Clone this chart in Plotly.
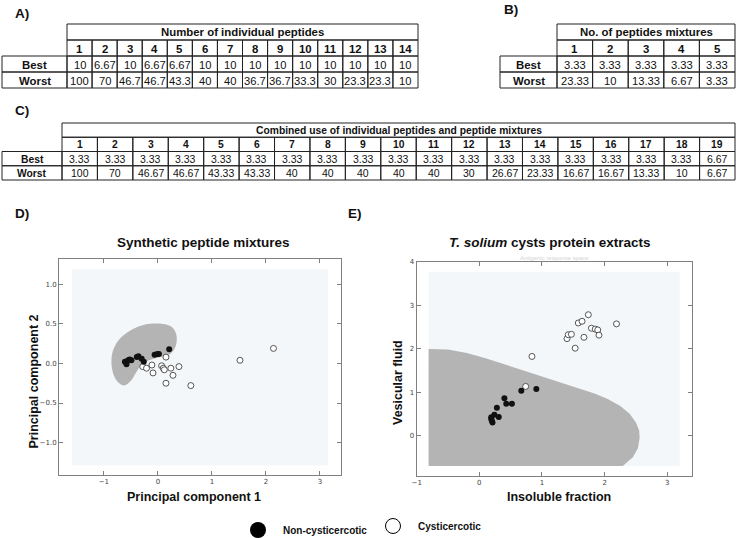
import plotly.graph_objects as go

W, H = 739, 538
FONT = "Liberation Sans, Arial, sans-serif"
NARROW = "Liberation Sans Narrow, Liberation Sans, Arial, sans-serif"

# ---------------- data: tables ----------------
a_title = "Number of individual peptides"
a_cols = [str(i) for i in range(1, 15)]
a_best = [10, 6.67, 10, 6.67, 6.67, 10, 10, 10, 10, 10, 10, 10, 10, 10]
a_worst = [100, 70, 46.7, 46.7, 43.3, 40, 40, 36.7, 36.7, 33.3, 30, 23.3, 23.3, 10]

b_title = "No. of peptides mixtures"
b_cols = [str(i) for i in range(1, 6)]
b_best = [3.33, 3.33, 3.33, 3.33, 3.33]
b_worst = [23.33, 10, 13.33, 6.67, 3.33]

c_title = "Combined use of individual peptides and peptide mixtures"
c_cols = [str(i) for i in range(1, 20)]
c_best = [3.33] * 18 + [6.67]
c_worst = [100, 70, 46.67, 46.67, 43.33, 43.33, 40, 40, 40, 40, 40, 30,
           26.67, 23.33, 16.67, 16.67, 13.33, 10, 6.67]

# ---------------- data: panel D (PCA) ----------------
d_non_x = [-0.61, -0.58, -0.55, -0.52, -0.49, -0.39, -0.36, -0.30, -0.26, -0.06, -0.01, 0.02, 0.21]
d_non_y = [0.02, -0.01, 0.04, 0.05, 0.04, 0.08, 0.09, 0.06, 0.02, 0.11, 0.12, 0.12, 0.18]
d_cys_x = [0.15, -0.28, -0.21, -0.11, -0.09, 0.07, 0.10, 0.12, 0.24, 0.28, 0.39, 0.15, 0.61, 1.52, 2.14]
d_cys_y = [0.08, -0.04, -0.06, -0.02, -0.12, -0.03, -0.06, -0.08, -0.06, -0.15, -0.04, -0.25, -0.28, 0.04, 0.19]
# decision region boundary (non-cysticercotic class)
d_reg_x = [0.09, 0.24, 0.33, 0.35, 0.32, 0.23, 0.05, -0.12, -0.28, -0.40, -0.50, -0.63,
           -0.76, -0.85, -0.84, -0.72, -0.50, -0.25]
d_reg_y = [0.50, 0.47, 0.39, 0.30, 0.20, 0.12, 0.08, 0.05, 0.00, -0.11, -0.22, -0.28,
           -0.22, -0.06, 0.14, 0.30, 0.42, 0.49]
d_bg_x = [-1.59, 3.15]
d_bg_y = [-1.29, 1.19]

# ---------------- data: panel E ----------------
e_non_x = [0.67, 0.91, 0.40, 0.43, 0.52, 0.28, 0.24, 0.19, 0.31, 0.20, 0.21, 0.19]
e_non_y = [1.03, 1.07, 0.86, 0.73, 0.73, 0.64, 0.48, 0.42, 0.43, 0.34, 0.30, 0.38]
e_cys_x = [0.74, 0.84, 1.40, 1.42, 1.47, 1.53, 1.58, 1.64, 1.67, 1.74, 1.79, 1.85, 1.89, 1.91, 2.19]
e_cys_y = [1.13, 1.82, 2.23, 2.32, 2.33, 2.01, 2.59, 2.63, 2.26, 2.78, 2.47, 2.45, 2.43, 2.31, 2.57]
e_curve_x = [-0.81, -0.5, -0.2, 0.1, 0.4, 0.7, 1.0, 1.3, 1.6, 1.85, 2.05, 2.25, 2.40, 2.50,
             2.55, 2.56, 2.53, 2.45, 2.29]
e_curve_y = [1.99, 1.98, 1.90, 1.78, 1.64, 1.50, 1.36, 1.22, 1.08, 0.96, 0.84, 0.68, 0.50, 0.30,
             0.12, -0.05, -0.30, -0.50, -0.70]
e_bg_x = [-0.81, 3.2]
e_bg_y = [-0.70, 3.77]


def px(x):
    return x / W


def py(y):
    return 1 - y / H


shapes = []
annotations = []
LINE = dict(color="#222222", width=1)


def rect(x0, y0, x1, y1):
    shapes.append(dict(type="rect", xref="paper", yref="paper",
                       x0=px(x0), x1=px(x1), y0=py(y1), y1=py(y0),
                       line=LINE, fillcolor="rgba(0,0,0,0)", layer="above"))


def text(x, y, s, size, family=FONT, color="#111111", angle=0, xanchor="center"):
    annotations.append(dict(xref="paper", yref="paper", x=px(x), y=py(y), text=s,
                            showarrow=False, xanchor=xanchor, yanchor="middle",
                            textangle=angle, font=dict(size=size, family=family, color=color)))


def fmt(v):
    return f"{v:g}"


def table(xl, xh, xr, yt, yb, title, cols, best, worst, tsize, vsize, vfamily):
    rh = (yb - yt) / 4
    cw = (xr - xh) / len(cols)
    rect(xh, yt, xr, yt + rh)
    text((xh + xr) / 2, yt + rh / 2 + 0.5, "<b>" + title + "</b>", tsize)
    rows = [("Best", best), ("Worst", worst)]
    for r, (lab, vals) in enumerate(rows):
        y0 = yt + (2 + r) * rh
        rect(xl, y0, xh, y0 + rh)
        text((xl + xh) / 2, y0 + rh / 2 + 0.5, "<b>" + lab + "</b>", tsize)
    for i, c in enumerate(cols):
        x0 = xh + i * cw
        rect(x0, yt + rh, x0 + cw, yt + 2 * rh)
        text(x0 + cw / 2, yt + 1.5 * rh + 0.5, "<b>" + c + "</b>", tsize)
        for r, (lab, vals) in enumerate(rows):
            y0 = yt + (2 + r) * rh
            rect(x0, y0, x0 + cw, y0 + rh)
            text(x0 + cw / 2, y0 + rh / 2 + 0.5, fmt(vals[i]), vsize, family=vfamily)


table(2, 67, 418, 24, 88, a_title, a_cols, a_best, a_worst, 11.4, 11.2, FONT)
table(500, 557, 735, 24, 88, b_title, b_cols, b_best, b_worst, 11.4, 11.2, FONT)
table(2, 62, 735, 123, 180, c_title, c_cols, c_best, c_worst, 10.3, 10.5, NARROW)

# panel labels
text(22, 13, "<b>A)</b>", 13.5)
text(511, 10, "<b>B)</b>", 13.5)
text(22, 110, "<b>C)</b>", 13.5)
text(22, 213, "<b>D)</b>", 13.5)
text(355, 213, "<b>E)</b>", 13.5)

# plot titles and axis titles
text(203, 242, "<b>Synthetic peptide mixtures</b>", 13.5)
text(550, 243, "<b><i>T. solium</i> cysts protein extracts</b>", 13.5)
text(554, 258, "Antigenic response space", 6, color="#d4d4d4")
text(194, 497, "<b>Principal component 1</b>", 12.5)
text(559, 497, "<b>Insoluble fraction</b>", 12.5)
text(33.5, 382, "<b>Principal component 2</b>", 12.5, angle=-90)
text(398, 383, "<b>Vesicular fluid</b>", 12.5, angle=-90)

BG = "#f3f7f9"
GRAY = "#b4b4b4"
shapes.append(dict(type="rect", xref="x", yref="y", x0=d_bg_x[0], x1=d_bg_x[1],
                   y0=d_bg_y[0], y1=d_bg_y[1], fillcolor=BG, line=dict(width=0), layer="below"))
shapes.append(dict(type="rect", xref="x2", yref="y2", x0=e_bg_x[0], x1=e_bg_x[1],
                   y0=e_bg_y[0], y1=e_bg_y[1], fillcolor=BG, line=dict(width=0), layer="below"))

fig = go.Figure()

# D region
fig.add_trace(go.Scatter(x=d_reg_x + [d_reg_x[0]], y=d_reg_y + [d_reg_y[0]], mode="lines",
                         fill="toself", fillcolor=GRAY, line=dict(width=0, shape="spline", smoothing=1),
                         hoverinfo="skip", showlegend=False, xaxis="x", yaxis="y"))
# E region
ex = e_curve_x + [e_bg_x[0]]
ey = e_curve_y + [e_bg_y[0]]
fig.add_trace(go.Scatter(x=ex, y=ey, mode="lines", fill="toself", fillcolor=GRAY,
                         line=dict(width=0), hoverinfo="skip", showlegend=False,
                         xaxis="x2", yaxis="y2"))

FILLED = dict(color="#111111", size=6, line=dict(width=0))
OPEN = dict(color="white", size=6, line=dict(color="#444444", width=0.9))

fig.add_trace(go.Scatter(x=d_cys_x, y=d_cys_y, mode="markers", marker=OPEN,
                         showlegend=False, xaxis="x", yaxis="y"))
fig.add_trace(go.Scatter(x=d_non_x, y=d_non_y, mode="markers", marker=FILLED,
                         showlegend=False, xaxis="x", yaxis="y"))
fig.add_trace(go.Scatter(x=e_cys_x, y=e_cys_y, mode="markers", marker=OPEN,
                         showlegend=False, xaxis="x2", yaxis="y2"))
fig.add_trace(go.Scatter(x=e_non_x, y=e_non_y, mode="markers", marker=FILLED,
                         showlegend=False, xaxis="x2", yaxis="y2"))

# legend entries
fig.add_trace(go.Scatter(x=[None], y=[None], mode="markers", name="<b>Non-cysticercotic</b>",
                         marker=dict(color="black", size=16, line=dict(width=0)),
                         legend="legend", xaxis="x", yaxis="y"))
fig.add_trace(go.Scatter(x=[None], y=[None], mode="markers", name="<b>Cysticercotic</b>",
                         marker=dict(color="white", size=15, line=dict(color="black", width=1)),
                         legend="legend2", xaxis="x", yaxis="y"))

TICKFONT = dict(size=7, family="DejaVu Sans, sans-serif", color="#444444")
ax_common = dict(showgrid=False, zeroline=False, showline=True, linecolor="#808080", linewidth=1,
                 mirror="ticks", ticks="inside", ticklen=4, tickcolor="#808080", tickwidth=1,
                 tickfont=TICKFONT, fixedrange=True)

fig.update_layout(
    width=W, height=538, margin=dict(l=0, r=0, t=0, b=0, autoexpand=False),
    paper_bgcolor="white", plot_bgcolor="white",
    shapes=shapes, annotations=annotations,
    xaxis=dict(domain=[px(59), px(341)], range=[-1.83, 3.39], tickvals=[-1, 0, 1, 2, 3],
               anchor="y", **ax_common),
    yaxis=dict(domain=[py(475), py(259)], range=[-1.41, 1.32], tickvals=[-1, -0.5, 0, 0.5, 1],
               tickformat=".1f", anchor="x", **ax_common),
    xaxis2=dict(domain=[px(416.7), px(692.3)], range=[-1.0, 3.4], tickvals=[-1, 0, 1, 2, 3],
                anchor="y2", **ax_common),
    yaxis2=dict(domain=[py(476), py(261.7)], range=[-0.93, 4.0], tickvals=[0, 1, 2, 3, 4],
                anchor="x2", **ax_common),
    showlegend=True,
    legend=dict(x=px(233), y=py(530), xanchor="left", yanchor="middle", bgcolor="rgba(0,0,0,0)",
                font=dict(size=10, family=FONT, color="#111111"), itemsizing="trace",
                itemwidth=40),
    legend2=dict(x=px(368), y=py(526), xanchor="left", yanchor="middle", bgcolor="rgba(0,0,0,0)",
                 font=dict(size=10, family=FONT, color="#111111"), itemsizing="trace",
                 itemwidth=40),
)

fig.write_html("out.html", config={"displayModeBar": False},
               post_script="document.body.style.margin='0';document.body.style.overflow='hidden';")
